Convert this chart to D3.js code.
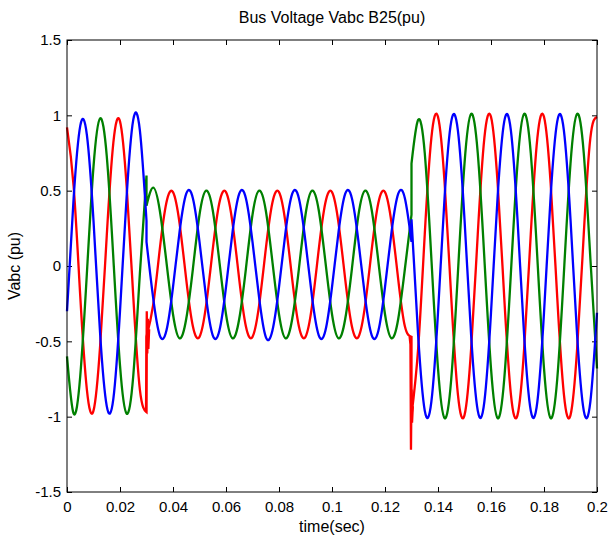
<!DOCTYPE html>
<html>
<head>
<meta charset="utf-8">
<script src="https://cdn.jsdelivr.net/npm/d3@7"></script>
<style>
  body { margin: 0; background: #fff; }
  text { font-family: "Liberation Sans", Arial, sans-serif; }
</style>
</head>
<body>
<div id="chart"></div>
<script>
// samples every 0.0025 s (1/8 of a 50 Hz cycle), one array per phase and per interval
var sampleStep = 0.0025;
var faultStart = 12, faultEnd = 52;   // sample index of 0.03 s and 0.13 s

// before the fault, 0 .. 0.03 s
var blueBefore  = [-0.30, 0.45, 0.93, 0.87, 0.30, -0.45, -0.93, -0.88, -0.30, 0.46, 0.97, 0.90, 0.30];
var greenBefore = [-0.60, -0.98, -0.73, -0.05, 0.66, 0.98, 0.73, 0.05, -0.66, -0.98, -0.73, -0.05, 0.60];
var redBefore   = [0.92, 0.53, -0.20, -0.82, -0.96, -0.53, 0.20, 0.82, 0.96, 0.53, -0.20, -0.82, -0.97];

// during the fault, 0.03 .. 0.13 s
var blueFault  = [0.16, -0.21, -0.46, -0.43, -0.14, 0.23, 0.48, 0.45,
                  0.16, -0.21, -0.46, -0.43, -0.14, 0.23, 0.48, 0.45,
                  0.16, -0.21, -0.47, -0.43, -0.14, 0.23, 0.48, 0.45,
                  0.16, -0.21, -0.46, -0.43, -0.14, 0.23, 0.48, 0.45,
                  0.16, -0.21, -0.46, -0.43, -0.14, 0.23, 0.48, 0.45, 0.16];
var greenFault = [0.40, 0.52, 0.37, 0.03, -0.32, -0.48, -0.35, -0.02,
                  0.34, 0.50, 0.37, 0.03, -0.32, -0.48, -0.35, -0.02,
                  0.34, 0.50, 0.37, 0.03, -0.32, -0.48, -0.35, -0.02,
                  0.34, 0.50, 0.37, 0.03, -0.32, -0.48, -0.35, -0.02,
                  0.34, 0.50, 0.37, 0.03, -0.32, -0.48, -0.35, -0.02, 0.34];
var redFault   = [-0.47, -0.26, 0.11, 0.42, 0.49, 0.28, -0.09, -0.40,
                  -0.47, -0.26, 0.11, 0.42, 0.49, 0.28, -0.09, -0.40,
                  -0.47, -0.26, 0.11, 0.42, 0.49, 0.28, -0.09, -0.40,
                  -0.47, -0.26, 0.11, 0.42, 0.49, 0.28, -0.09, -0.40,
                  -0.47, -0.26, 0.11, 0.42, 0.49, 0.28, -0.09, -0.40, -0.47];

// after clearing, 0.13 .. 0.2 s
var blueAfter  = [0.31, -0.46, -0.96, -0.90, -0.31, 0.46, 0.96, 0.90,
                  0.31, -0.46, -0.96, -0.90, -0.31, 0.46, 0.96, 0.90,
                  0.31, -0.46, -0.96, -0.90, -0.31, 0.46, 0.96, 0.90,
                  0.31, -0.46, -0.96, -0.90, -0.31];
var greenAfter = [0.68, 0.97, 0.75, 0.05, -0.68, -1.01, -0.75, -0.05,
                  0.68, 1.01, 0.75, 0.05, -0.68, -1.01, -0.75, -0.05,
                  0.68, 1.01, 0.75, 0.05, -0.68, -1.01, -0.75, -0.05,
                  0.68, 1.01, 0.75, 0.05, -0.68];
var redAfter   = [-0.99, -0.55, 0.21, 0.85, 0.99, 0.55, -0.21, -0.85,
                  -0.99, -0.55, 0.21, 0.85, 0.99, 0.55, -0.21, -0.85,
                  -0.99, -0.55, 0.21, 0.85, 0.99, 0.55, -0.21, -0.85,
                  -0.99, -0.55, 0.21, 0.85, 0.99];

// switching spikes on phase c
var spikeOnTime  = [0.0298, 0.0300, 0.0301, 0.0303, 0.0305, 0.0307, 0.0310];
var spikeOnRed   = [-0.97, -0.62, -0.30, -0.58, -0.35, -0.55, -0.42];
var spikeOffTime = [0.1293, 0.1296, 0.1298, 0.1300, 0.1302, 0.1305];
var spikeOffRed  = [-0.47, -0.52, -1.22, -0.82, -1.04, -0.93];

var xTicks = [0, 0.02, 0.04, 0.06, 0.08, 0.1, 0.12, 0.14, 0.16, 0.18, 0.2];
var yTicks = [-1.5, -1, -0.5, 0, 0.5, 1, 1.5];

// set the dimensions and margins of the graph
var margin = {top: 40, right: 12, bottom: 45, left: 67},
    width = 609 - margin.left - margin.right,
    height = 537 - margin.top - margin.bottom;

var svg = d3.select("#chart")
  .append("svg")
    .attr("width", width + margin.left + margin.right)
    .attr("height", height + margin.top + margin.bottom)
  .append("g")
    .attr("transform", "translate(" + margin.left + "," + margin.top + ")");

var x = d3.scaleLinear().domain([0, 0.2]).range([0, width]);
var y = d3.scaleLinear().domain([-1.5, 1.5]).range([height, 0]);

// axes, MATLAB style: ticks inside the box on all four sides
svg.append("g")
  .attr("transform", "translate(0," + height + ")")
  .call(d3.axisBottom(x).tickValues(xTicks).tickFormat(String).tickSize(-5).tickSizeOuter(0).tickPadding(9));
svg.append("g")
  .call(d3.axisTop(x).tickValues(xTicks).tickFormat("").tickSize(-5).tickSizeOuter(0));
svg.append("g")
  .call(d3.axisLeft(y).tickValues(yTicks).tickFormat(String).tickSize(-5).tickSizeOuter(0).tickPadding(6));
svg.append("g")
  .attr("transform", "translate(" + width + ",0)")
  .call(d3.axisRight(y).tickValues(yTicks).tickFormat("").tickSize(-5).tickSizeOuter(0));

svg.selectAll(".domain").remove();
svg.selectAll(".tick line").attr("stroke", "#000");
svg.selectAll(".tick text").attr("fill", "#000").style("font-size", "15px");

// phase curves
var line = d3.line()
  .x(function(d) { return x(d[0]); })
  .y(function(d) { return y(d[1]); })
  .curve(d3.curveNatural);

function samples(values, first) {
  return values.map(function(v, i) { return [(first + i) * sampleStep, v]; });
}

function phasePath(before, fault, after) {
  return line(samples(before, 0)) +
    line(samples(fault, faultStart)).replace("M", "L") +
    line(samples(after, faultEnd)).replace("M", "L");
}

var phases = [
  {color: "#ff0000", before: redBefore, fault: redFault, after: redAfter},
  {color: "#008000", before: greenBefore, fault: greenFault, after: greenAfter},
  {color: "#0000ff", before: blueBefore, fault: blueFault, after: blueAfter}
];

svg.selectAll("path.phase")
  .data(phases)
  .enter()
  .append("path")
    .attr("class", "phase")
    .attr("d", function(d) { return phasePath(d.before, d.fault, d.after); })
    .attr("fill", "none")
    .attr("stroke", function(d) { return d.color; })
    .attr("stroke-width", 2.3);

var spikeLine = d3.line()
  .x(function(d) { return x(d[0]); })
  .y(function(d) { return y(d[1]); });

svg.selectAll("path.spike")
  .data([d3.zip(spikeOnTime, spikeOnRed), d3.zip(spikeOffTime, spikeOffRed)])
  .enter()
  .append("path")
    .attr("class", "spike")
    .attr("d", spikeLine)
    .attr("fill", "none")
    .attr("stroke", "#ff0000")
    .attr("stroke-width", 2.3);

// box
svg.append("rect")
  .attr("width", width)
  .attr("height", height)
  .attr("fill", "none")
  .attr("stroke", "#000");

// labels
svg.append("text")
  .attr("x", width / 2)
  .attr("y", -17)
  .attr("text-anchor", "middle")
  .style("font-size", "16px")
  .text("Bus Voltage Vabc B25(pu)");

svg.append("text")
  .attr("x", width / 2)
  .attr("y", height + 40)
  .attr("text-anchor", "middle")
  .style("font-size", "16px")
  .text("time(sec)");

svg.append("text")
  .attr("transform", "translate(" + (-47) + "," + (height / 2) + ")rotate(-90)")
  .attr("text-anchor", "middle")
  .style("font-size", "16px")
  .text("Vabc (pu)");
</script>
</body>
</html>
